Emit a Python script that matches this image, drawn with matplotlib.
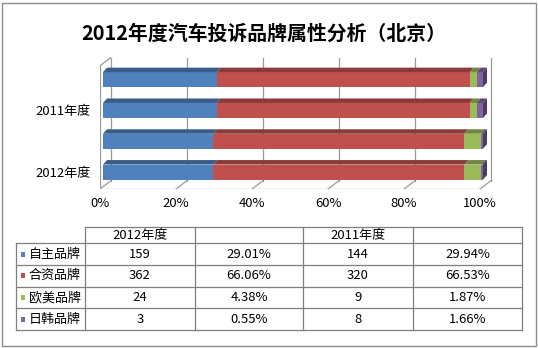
import numpy as np
import matplotlib.pyplot as plt
from matplotlib.patches import Polygon, Rectangle
from matplotlib.colors import to_rgb

plt.rcParams["font.family"] = ["Noto Sans CJK SC", "DejaVu Sans"]

# Data
brands = ["自主品牌", "合资品牌", "欧美品牌", "日韩品牌"]
counts_2012 = [159, 362, 24, 3]
pct_2012 = [29.01, 66.06, 4.38, 0.55]
counts_2011 = [144, 320, 9, 8]
pct_2011 = [29.94, 66.53, 1.87, 1.66]
row_labels = ["2012年度", "", "2011年度", ""]
colors = ["#4F81BD", "#C0504D", "#9BBB59", "#8064A2"]

rows = [counts_2012, pct_2012, counts_2011, pct_2011]


def shade(c, f):
    r, g, b = to_rgb(c)
    return (r * f, g * f, b * f)


W, H = 538, 348
fig = plt.figure(figsize=(W / 100, H / 100), dpi=100)

# 3D-looking 100% stacked bars
px_x = 380.0   # pixels per 100%
px_y = 30.8    # pixels per category
y0, y1 = -0.55, 3.45
wall_dx, wall_dy = 10.5 / px_x, 8 / px_y
bar_sx = 3 / px_x
bar_h = 15 / px_y
bdx, bdy = 4 / px_x, 4.5 / px_y

xlim = (0, 1.04)
ylim = (y0, y1 + wall_dy + 0.01)
left_px, floor_px = 100, 189
ax = fig.add_axes([left_px / W, (H - floor_px) / H,
                   (xlim[1] - xlim[0]) * px_x / W, (ylim[1] - ylim[0]) * px_y / H])
ax.set_xlim(*xlim)
ax.set_ylim(*ylim)
for s in ax.spines.values():
    s.set_visible(False)

grid_c = "#9a9a9a"
ticks = np.linspace(0, 1, 6)
for t in ticks:
    ax.plot([t + wall_dx, t + wall_dx], [y0 + wall_dy, y1 + wall_dy], color=grid_c, lw=0.9)
    ax.plot([t, t + wall_dx], [y0, y0 + wall_dy], color=grid_c, lw=0.9)
# floor front edge and left wall
ax.plot([0, 1], [y0, y0], color=grid_c, lw=0.9)
ax.plot([0, 0], [y0, y1], color=grid_c, lw=0.9)
ax.plot([0, wall_dx], [y1, y1 + wall_dy], color=grid_c, lw=0.9)

for i, vals in enumerate(rows):
    frac = np.array(vals, dtype=float) / np.sum(vals)
    lefts = np.concatenate([[0], np.cumsum(frac)[:-1]])
    for j, (l, w) in enumerate(zip(lefts, frac)):
        ax.barh(i, w, left=l + bar_sx, height=bar_h, color=colors[j], lw=0, zorder=3)
        top = i + bar_h / 2
        ax.add_patch(Polygon([(l + bar_sx, top), (l + w + bar_sx, top),
                              (l + w + bar_sx + bdx, top + bdy), (l + bar_sx + bdx, top + bdy)],
                             closed=True, facecolor=shade(colors[j], 0.72), lw=0, zorder=3))
    xe = 1 + bar_sx
    bot = i - bar_h / 2
    top = i + bar_h / 2
    ax.add_patch(Polygon([(xe, bot), (xe + bdx, bot + bdy), (xe + bdx, top + bdy), (xe, top)],
                         closed=True, facecolor=shade(colors[-1], 0.6), lw=0, zorder=3))

ax.set_xticks(ticks, labels=[f"{int(t * 100)}%" for t in ticks])
ax.set_yticks(range(len(row_labels)), labels=row_labels)
ax.tick_params(length=0, labelsize=9.4, colors="black")
ax.tick_params(axis="x", pad=6)
ax.tick_params(axis="y", pad=7)

# Overlay in pixel coordinates for frame, title and data table
ov = fig.add_axes([0, 0, 1, 1], zorder=-1)
ov.set_xlim(0, W)
ov.set_ylim(H, 0)
ov.axis("off")
ov.add_patch(Rectangle((2, 3), 534, 343, fill=False, edgecolor="#8c8c8c", lw=1))
ov.text(264, 33, "2012年度汽车投诉品牌属性分析（北京）", ha="center", va="center",
        fontsize=14.3, fontweight="bold")

tab = fig.add_axes([0, 0, 1, 1])
tab.set_xlim(0, W)
tab.set_ylim(H, 0)
tab.axis("off")
line_c = "#7f7f7f"
col_x = [16, 85, 195, 303, 413, 522]
head_top, head_bot = 227.3, 243.3
row_h = 21.7
row_y = [head_bot + k * row_h for k in range(len(brands) + 1)]

tab.plot([col_x[1], col_x[-1]], [head_top, head_top], color=line_c, lw=0.9)
for y in row_y:
    tab.plot([col_x[0], col_x[-1]], [y, y], color=line_c, lw=0.9)
tab.plot([col_x[0], col_x[0]], [head_bot, row_y[-1]], color=line_c, lw=0.9)
for x in col_x[1:]:
    tab.plot([x, x], [head_top, row_y[-1]], color=line_c, lw=0.9)

hc = (head_top + head_bot) / 2
tab.text((col_x[1] + col_x[2]) / 2, hc, "2012年度", ha="center", va="center", fontsize=9.4)
tab.text((col_x[3] + col_x[4]) / 2, hc, "2011年度", ha="center", va="center", fontsize=9.4)

for k, name in enumerate(brands):
    yc = row_y[k] + row_h / 2
    tab.add_patch(Rectangle((20.7, yc - 2.5), 4.5, 5, facecolor=colors[k], lw=0))
    tab.text(29, yc, name, ha="left", va="center", fontsize=9.4)
    cells = [str(counts_2012[k]), f"{pct_2012[k]:.2f}%", str(counts_2011[k]), f"{pct_2011[k]:.2f}%"]
    for c, txt in enumerate(cells):
        tab.text((col_x[c + 1] + col_x[c + 2]) / 2, yc, txt, ha="center", va="center", fontsize=9.4)

fig.savefig("out.png", dpi=100)
